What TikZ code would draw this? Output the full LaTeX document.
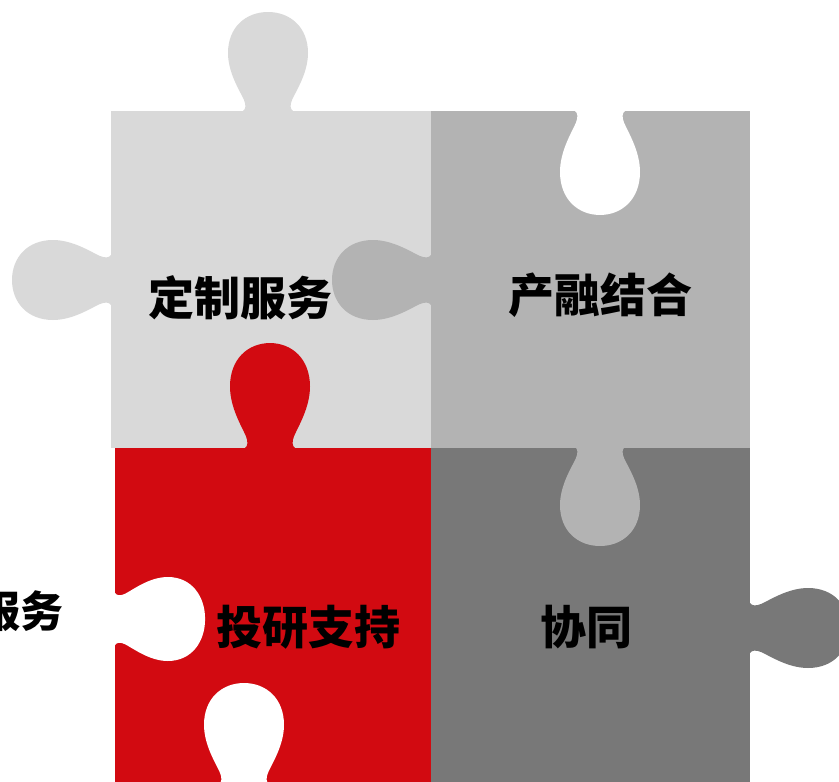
\documentclass[tikz,border=0pt]{standalone}
\usepackage{fontspec}
\newfontfamily\cjk{Noto Sans CJK SC}
\usetikzlibrary{positioning}
\definecolor{paleGray}{HTML}{D9D9D9}
\definecolor{midGray}{HTML}{B3B3B3}
\definecolor{darkGray}{HTML}{787878}
\definecolor{puzzleRed}{HTML}{D20A11}

\tikzset{
  knob/.pic={
    \path[pic actions] (-25,3) -- (-25,0) .. controls (-22,-2) and (-22,-6) .. (-24,-11)
      .. controls (-28,-20) and (-40,-38) .. (-40,-58)
      .. controls (-40,-84) and (-22,-99) .. (0,-99)
      .. controls (22,-99) and (40,-84) .. (40,-58)
      .. controls (40,-38) and (28,-20) .. (24,-11)
      .. controls (22,-6) and (22,-2) .. (25,0) -- (25,3) -- cycle;
  },
  pieceText/.style={font=\cjk\bfseries\fontsize{46}{46}\selectfont, inner sep=0pt}
}

\begin{document}
\begin{tikzpicture}[x=1pt, y=-1pt]
            \useasboundingbox (0,0) rectangle (839,782);

            % First, the four squares and their knobs
            \fill[paleGray] (111,111) rectangle (432,448);
            \pic[fill=paleGray] at (268,111) {knob};
            \pic[fill=paleGray, rotate=90] at (111,280) {knob};

            \fill[midGray] (431,111) rectangle (750,448);
            \pic[fill=midGray, rotate=90] at (431,280) {knob};
            \pic[fill=white, rotate=180, yscale=1.05] at (600,111) {knob};

            \fill[puzzleRed] (115,448) rectangle (431,782);
            \pic[fill=puzzleRed, yscale=1.06] at (270,448) {knob};
            \pic[fill=white, rotate=-90, yscale=0.91, xscale=1.05] at (115,619) {knob};
            \pic[fill=white, yscale=1.02] at (244,784) {knob};

            \fill[darkGray] (431,448) rectangle (750,782);
            \pic[fill=midGray, rotate=180] at (600,447) {knob};
            \pic[fill=darkGray, rotate=-90] at (750,628) {knob};

            % Now the texts
            \node[pieceText] (service) at (240,298) {定制服务};
            \node[pieceText] (industry) at (600,295) {产融结合};
            \node[pieceText] (research) at (308,627) {投研支持};
            \node[pieceText] (synergy) at (586,627) {协同};
            \node[pieceText, font=\cjk\bfseries\fontsize{43}{43}\selectfont, anchor=east] (serviceCut) at (64,611) {服务};
\end{tikzpicture}
\end{document}
